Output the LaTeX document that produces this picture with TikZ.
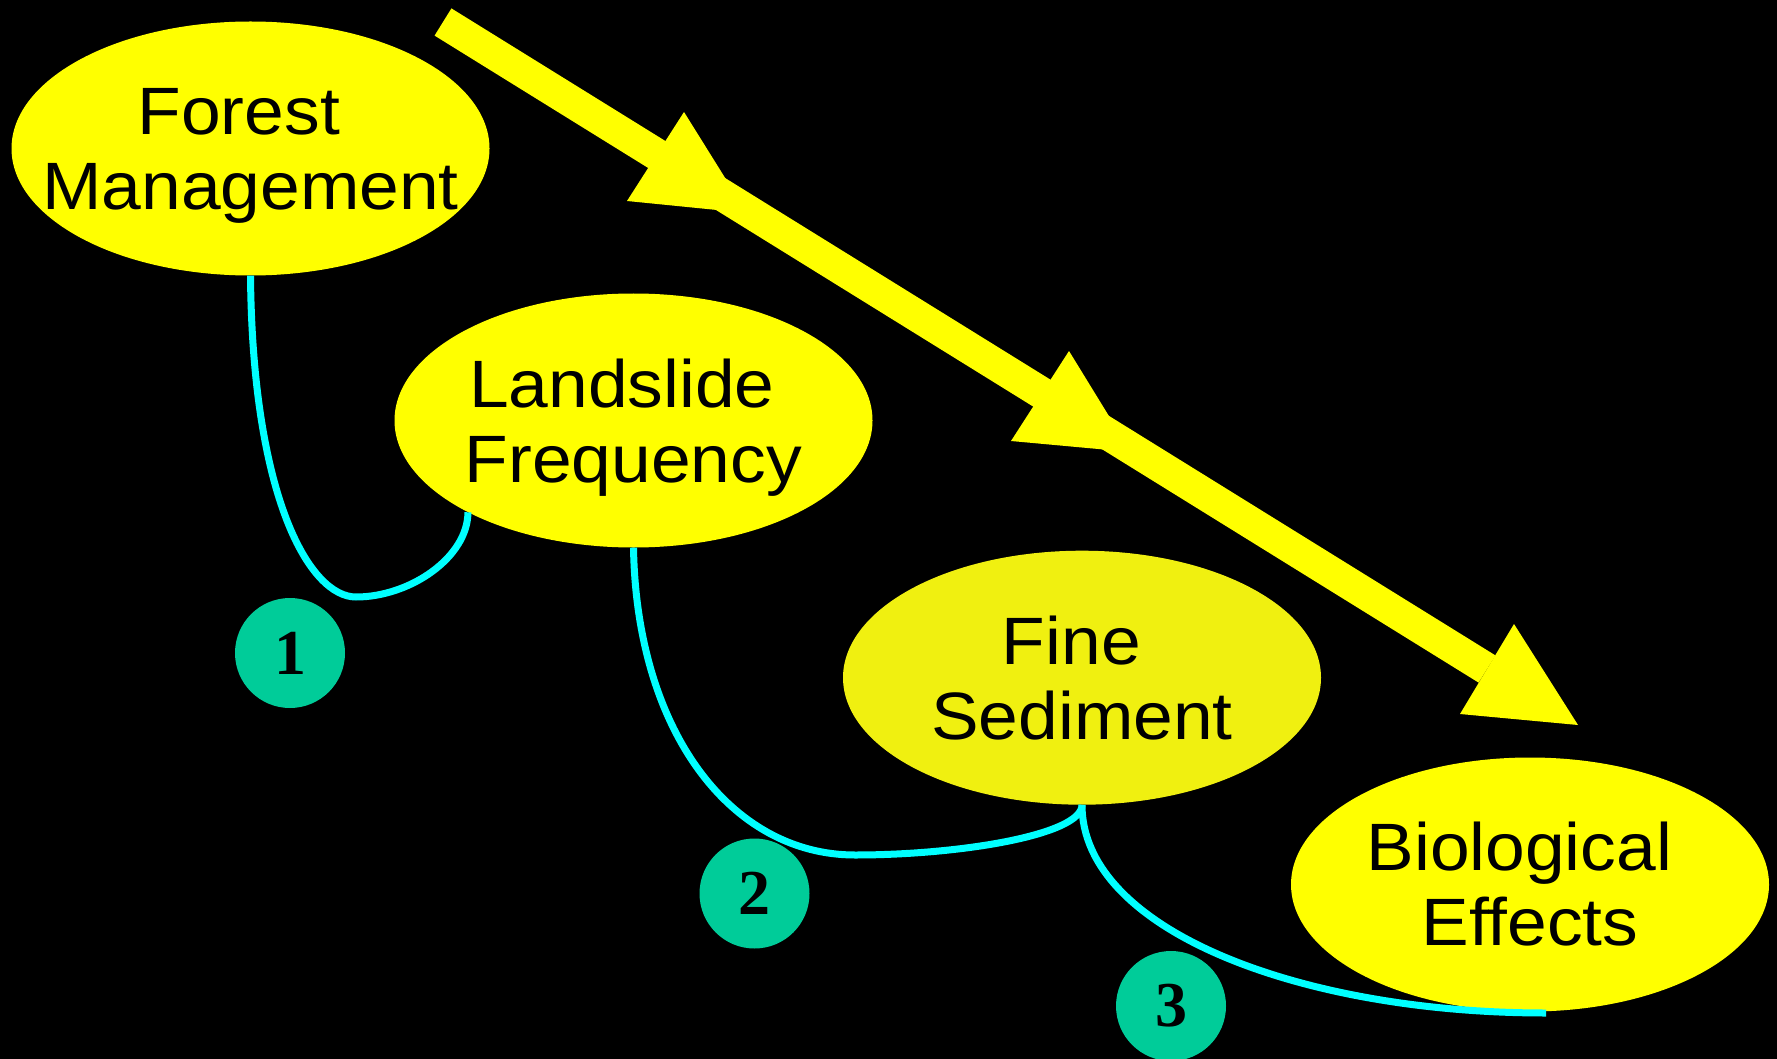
\documentclass[tikz,border=0pt]{standalone}
\usepackage{fontspec}
\setmainfont{Liberation Sans}
\newfontfamily\numfont{Liberation Serif}
\usetikzlibrary{shapes.geometric}
\definecolor{yel}{RGB}{255,255,0}
\definecolor{yelg}{RGB}{240,240,16}
\definecolor{cyn}{RGB}{0,255,255}
\definecolor{tealc}{RGB}{0,204,153}
\begin{document}
\begin{tikzpicture}[x=1pt,y=-1pt,
  ell/.style={ellipse, fill=yel, minimum width=478pt, minimum height=254pt, inner sep=0pt},
  txt/.style={align=center, font=\fontsize{67}{75}\selectfont, text=black, inner sep=0pt,
    xscale=1.065, transform shape},
  conn/.style={draw=cyn, line width=7pt},
  num/.style={circle, fill=tealc, minimum size=110pt, inner sep=0pt,
    font=\numfont\bfseries\fontsize{64}{64}\selectfont, text=black},
  flow/.style={draw=yel, line width=32pt},
  head/.style={fill=yel}]
\fill[black] (0,0) rectangle (1777,1059);
\useasboundingbox (0,0) rectangle (1777,1059);

% ellipses
\node[ell] (fm) at (250.5,148.5) {};
\node[ell] (ls) at (633.5,420.5) {};
\node[ell, fill=yelg] (fs) at (1082,677.7) {};
\node[ell] (be) at (1530,884.5) {};
\node[txt] (fmT) at (fm.center) {Forest\kern22pt\\\smash{Management}};
\node[txt] (lsT) at (ls.center) {Landslide\kern22pt\\\smash{Frequency}};
\node[txt] (fsT) at (fs.center) {Fine\kern20pt\\Sediment};
\node[txt] (beT) at (be.center) {Biological\kern20pt\\Effects};

% connectors
\coordinate (k1) at (356,597);
\coordinate (k2) at (855,855);
\coordinate (k3) at (1546,1013);
\draw[conn] (fm.south) .. controls +(2,223) and +(-46,0) .. (k1)
  .. controls +(54,0) and +(0,45) .. (ls.-151);
\draw[conn] (ls.south) .. controls +(3,182) and +(-125,0) .. (k2)
  .. controls +(105,0) and +(0,30) .. (fs.south);
\draw[conn] (fs.south) .. controls +(0,125) and +(-246,0) .. (k3);

% big flow arrow
\coordinate (a0) at (443,22);
\coordinate (a3) at (1487,669);
\coordinate (h1a) at (684,112);
\coordinate (h1b) at (627,201);
\coordinate (h1t) at (747,213);
\coordinate (h2a) at (1069,351);
\coordinate (h2b) at (1011,441);
\coordinate (h2t) at (1131,452);
\coordinate (h3a) at (1514,624);
\coordinate (h3b) at (1460,714);
\coordinate (h3t) at (1578,725);
\draw[flow] (a0) -- (a3);
\fill[head] (h1a) -- (h1t) -- (h1b) -- cycle;
\fill[head] (h2a) -- (h2t) -- (h2b) -- cycle;
\fill[head] (h3a) -- (h3t) -- (h3b) -- cycle;

% numbered circles
\node[num] (n1) at (290,653) {1};
\node[num] (n2) at (754.5,893.5) {2};
\node[num] (n3) at (1171,1006) {3};
\end{tikzpicture}
\end{document}
